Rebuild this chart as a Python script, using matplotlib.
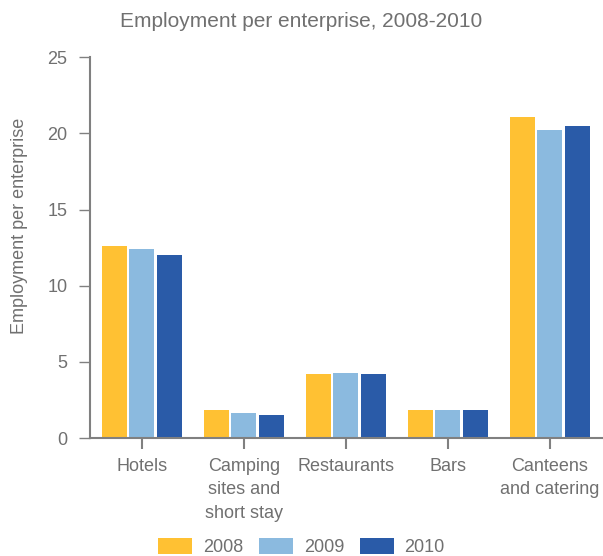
import matplotlib.pyplot as plt
import numpy as np

categories = ["Hotels", "Camping\nsites and\nshort stay", "Restaurants", "Bars", "Canteens\nand catering"]
years = ["2008", "2009", "2010"]
values_2008 = [12.6, 1.85, 4.2, 1.85, 21.1]
values_2009 = [12.4, 1.65, 4.25, 1.85, 20.2]
values_2010 = [12.0, 1.55, 4.2, 1.85, 20.5]
colors = ["#FFC133", "#8BBADF", "#2A5BA8"]

plt.rcParams["font.family"] = ["Liberation Sans", "DejaVu Sans"]

text_color = "#707070"
spine_color = "#808080"

fig = plt.figure(figsize=(6.03, 5.56), dpi=100)
ax = fig.add_axes([0.149, 0.212, 0.851, 0.685])

x = np.arange(len(categories))
pitch = 0.27
width = 0.245
for i, (vals, year) in enumerate(zip([values_2008, values_2009, values_2010], years)):
    ax.bar(x + (i - 1) * pitch, vals, width, color=colors[i], label=year)

ax.set_xlim(-0.51, 4.52)
ax.set_ylim(0, 25)
ax.set_yticks([0, 5, 10, 15, 20, 25])
ax.set_xticks(x)
ax.set_xticklabels(categories, fontsize=13, color=text_color, va="top", linespacing=1.5)
ax.tick_params(axis="y", labelsize=13, labelcolor=text_color, color=spine_color, length=8, width=1, pad=8)
ax.tick_params(axis="x", color=spine_color, length=8, width=1.5, pad=6)

for side in ["top", "right"]:
    ax.spines[side].set_visible(False)
for side in ["left", "bottom"]:
    ax.spines[side].set_color(spine_color)
    ax.spines[side].set_linewidth(1.5)

ax.set_ylabel("Employment per enterprise", fontsize=13, color=text_color)
ax.yaxis.set_label_coords(-0.121, 0.556)
fig.suptitle("Employment per enterprise, 2008-2010", fontsize=15, color=text_color, y=0.978)

fig.legend(loc="lower center", bbox_to_anchor=(0.5, -0.03), ncol=3, frameon=False,
           fontsize=13, labelcolor=text_color, handlelength=1.9, handleheight=1.0,
           columnspacing=0.87, handletextpad=0.58)

fig.savefig("out.png", dpi=100)
